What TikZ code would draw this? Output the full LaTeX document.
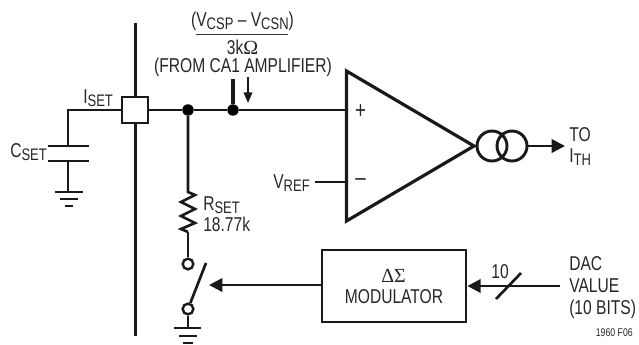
\documentclass[tikz,border=0pt]{standalone}
\usepackage{fontspec}
\setmainfont[FakeStretch=0.78]{Liberation Sans}
\newfontfamily\symfont{Liberation Serif}
\usetikzlibrary{arrows.meta,decorations.pathmorphing}
\newcommand{\subt}[1]{\raisebox{-0.3ex}{\fontsize{12.5}{13}\selectfont #1}}
\tikzset{
  x=0.75pt,y=-0.75pt,
  wire/.style={line width=2pt,black!90},
  lab/.style={inner sep=0pt,font=\fontsize{15}{16}\selectfont,text=black!85},
  dot/.style={circle,fill=black,inner sep=0pt,minimum size=8.6pt,draw=none},
  opencirc/.style={circle,draw=black!90,line width=1.8pt,fill=white,inner sep=0pt,minimum size=8pt},
  tip/.style={-{Triangle[length=10pt,width=10pt]}},
  gnd/.style={line width=2pt,black!90},
}
\begin{document}
\begin{tikzpicture}
\useasboundingbox (0,0) rectangle (639,344);
% rail
\coordinate (railtop) at (135.5,23);
\coordinate (railbot) at (135.5,336);
\draw[wire] (railtop) -- (railbot);
% nodes on main wire
\node[draw=black!90,line width=2.2pt,fill=white,minimum size=19.5pt,inner sep=0pt] (pad) at (135,110) {};
\node[dot] (j1) at (188,110) {};
\node[dot] (j2) at (233,110) {};
\coordinate (corner) at (68,110);
\coordinate (capt) at (68,146);
\coordinate (capb) at (68,161);
\coordinate (capg) at (68,192);
\draw[wire] (pad.west) -- (corner) -- (capt);
\draw[wire] (48,146) -- (89,146);
\draw[wire] (48,161) -- (89,161);
\draw[wire] (capb) -- (capg);
\draw[gnd] (55,192) -- (83,192) (60,199) -- (78,199) (65,206) -- (73,206);
% op amp
\draw[line width=2.4pt,black!90,line join=miter,fill=white] (346.5,71) coordinate (oa1) -- (346.5,221) -- (474,146) coordinate (oaout) -- cycle;
\coordinate (plus) at (346.5,110);
\coordinate (minus) at (346.5,182);
\draw[wire] (pad.east) -- (j1) -- (j2) -- (plus);
\node[lab,font=\fontsize{18}{18}\selectfont] at (360.5,112) {+};
\node[lab,font=\fontsize{18}{18}\selectfont] at (360.5,182.5) {–};
\coordinate (vrefw) at (315,182);
\draw[wire] (vrefw) -- (minus);
\node[lab,anchor=east] (vref) at (310,183) {V\subt{REF}};
% stub and label
\coordinate (stub) at (233,79);
\draw[line width=2.6pt,black!90] (stub) -- (j2);
\coordinate (sa) at (248,77);
\coordinate (sb) at (248,103);
\draw[line width=1.1pt,black!90,-{Triangle[length=8pt,width=6.5pt]}] (sa) -- (sb);
\node[lab] (frac) at (242.5,21) {(V\subt{CSP} – V\subt{CSN})};
\coordinate (fa) at (196,34.5);
\coordinate (fb) at (288,34.5);
\draw[line width=1pt,black!80] (fa) -- (fb);
\node[lab] (k3) at (242.5,47) {3k\symfont Ω};
\node[lab] (from) at (243,67) {(FROM CA1 AMPLIFIER)};
\node[lab,anchor=west] (iset) at (83,98) {I\subt{SET}};
\node[lab,anchor=west] (cset) at (10,152) {C\subt{SET}};
% resistor
\coordinate (ra) at (188,192);
\coordinate (rb) at (188,232);
\coordinate (sw1c) at (188,264);
\draw[wire,line join=miter] (j1) -- (ra) -- (195,195) -- (181,202) -- (195,209) -- (181,216) -- (195,223) -- (181,229) -- (rb);
\node[opencirc] (sw1) at (sw1c) {};
\node[opencirc] (sw2) at (188,309) {};
\draw[wire] (rb) -- (sw1);
\coordinate (bladeend) at (206,263);
\draw[wire] (sw2) -- (bladeend);
\coordinate (g2) at (188,328);
\draw[wire] (sw2) -- (g2);
\draw[gnd] (174,328) -- (201,328) (179,336) -- (197,336) (183,343) -- (193,343);
\node[lab,anchor=west] (rset) at (203,205) {R\subt{SET}};
\node[lab,anchor=west] (rval) at (203,224) {18.77k};
% modulator
\node[draw=black!90,line width=2.1pt,minimum width=108pt,minimum height=54pt,inner sep=0pt] (mod) at (394,286) {};
\node[lab] (ds) at (393.5,276) {\symfont ΔΣ};
\node[lab] (modt) at (394,297) {MODULATOR};
\coordinate (swarrow) at (209,285);
\draw[wire,tip] (mod.west |- swarrow) -- (swarrow);
\coordinate (dacw) at (560,286);
\draw[wire,tip] (dacw) -- (mod.east |- dacw);
\coordinate (sl1) at (496,299);
\coordinate (sl2) at (521,273);
\draw[wire] (sl1) -- (sl2);
\node[lab] (ten) at (500,272) {10};
\node[lab,anchor=west] (dac) at (569,264) {DAC};
\node[lab,anchor=west] (val) at (569,286) {VALUE};
\node[lab,anchor=west] (bits) at (569,309) {(10 BITS)};
\node[lab,anchor=east,font=\fontsize{8.4}{9}\selectfont] (fig) at (633,333) {1960 F06};
% current source
\node[circle,draw=black!90,line width=2.2pt,minimum size=22.5pt,inner sep=0pt] (cs1) at (492,146) {};
\node[circle,draw=black!90,line width=2.2pt,minimum size=22.5pt,inner sep=0pt] (cs2) at (512,146) {};
\coordinate (outtip) at (565,146);
\draw[wire,tip] (cs2.east) -- (outtip);
\node[lab,anchor=west] (to) at (569,134.5) {TO};
\node[lab,anchor=west] (ith) at (569,157) {I\subt{TH}};
\end{tikzpicture}
\end{document}
